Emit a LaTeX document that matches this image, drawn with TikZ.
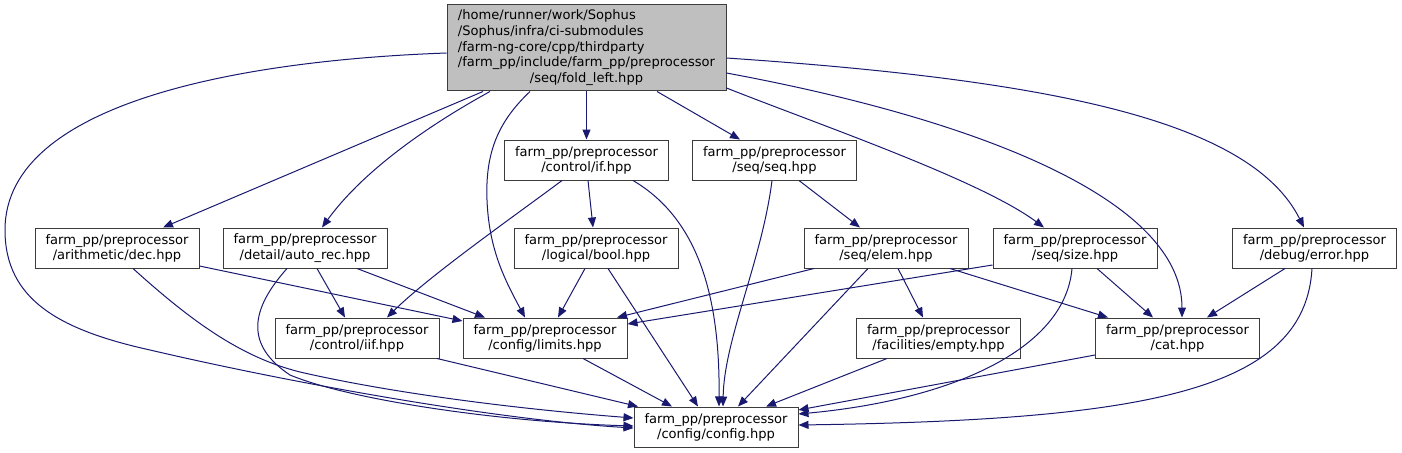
\documentclass[tikz,border=0pt]{standalone}
\usepackage{fontspec}
\setmainfont{DejaVu Sans}
\usetikzlibrary{arrows.meta}
\definecolor{edgeblue}{HTML}{191970}
\definecolor{boxline}{HTML}{3C3C3C}
\definecolor{rootfill}{HTML}{BFBFBF}
\tikzset{
  box/.style={draw=boxline, line width=0.75pt, fill=white, minimum width=123pt, minimum height=30pt,
    inner sep=0pt, align=center, font=\fontsize{9.8}{11.4}\selectfont},
  rootbox/.style={draw=boxline, line width=0.75pt, fill=rootfill, minimum width=209.25pt, minimum height=64.5pt,
    inner sep=0pt, font=\fontsize{9.8}{11.8}\selectfont},
  edge/.style={draw=edgeblue, line width=0.75pt, -{Triangle[length=7.5pt,width=6pt]}}
}
\begin{document}
\begin{tikzpicture}[x=0.75pt,y=-0.75pt]
\useasboundingbox (0,0) rectangle (1402,453);
\fill[white] (0,0) rectangle (1402,453);
% nodes
\node[rootbox] (root) at (586.5,48) {\renewcommand{\arraystretch}{1}\begin{tabular}{@{}l@{}}/home/runner/work/Sophus\\/Sophus/infra/ci-submodules\\/farm-ng-core/cpp/thirdparty\\/farm\_pp/include/farm\_pp/preprocessor\\\multicolumn{1}{@{}c@{}}{/seq/fold\_left.hpp}\end{tabular}};
\node[box] (if) at (586.5,160) {farm\_pp/preprocessor\\/control/if.hpp};
\node[box] (seq) at (774.5,160) {farm\_pp/preprocessor\\/seq/seq.hpp};
\node[box] (dec) at (117,248) {farm\_pp/preprocessor\\/arithmetic/dec.hpp};
\node[box] (autorec) at (305,248) {farm\_pp/preprocessor\\/detail/auto\_rec.hpp};
\node[box] (bool) at (596,248) {farm\_pp/preprocessor\\/logical/bool.hpp};
\node[box] (elem) at (886,248) {farm\_pp/preprocessor\\/seq/elem.hpp};
\node[box] (size) at (1075,248) {farm\_pp/preprocessor\\/seq/size.hpp};
\node[box] (error) at (1314.5,248) {farm\_pp/preprocessor\\/debug/error.hpp};
\node[box] (iif) at (357,338) {farm\_pp/preprocessor\\/control/iif.hpp};
\node[box] (limits) at (545,338) {farm\_pp/preprocessor\\/config/limits.hpp};
\node[box] (empty) at (938.5,338) {farm\_pp/preprocessor\\/facilities/empty.hpp};
\node[box] (cat) at (1177.5,338) {farm\_pp/preprocessor\\/cat.hpp};
\node[box] (config) at (716,427) {farm\_pp/preprocessor\\/config/config.hpp};
% edges from root
\draw[edge] (root.south -| 483,0) -- (dec.north -| 163,0);
\draw[edge] (root.south -| 490,0) .. controls (420,130) and (360,175) .. (autorec.north -| 322,0);
\draw[edge] (root.south -| 530,0) .. controls (500,120) and (485,150) .. (487,200) .. controls (489,250) and (505,280) .. (limits.north -| 525,0);
\draw[edge] (root.south -| 586.5,0) -- (if.north);
\draw[edge] (root.south -| 657,0) -- (seq.north -| 740,0);
\draw[edge] (root.east |- 0,88) .. controls (820,125) and (980,180) .. (size.north -| 1044,0);
\draw[edge] (root.east |- 0,73) .. controls (980,120) and (1182,200) .. (cat.north -| 1182,0);
\draw[edge] (root.east |- 0,58) .. controls (1050,80) and (1250,120) .. (error.north -| 1304,0);
\draw[edge] (root.west |- 0,53) .. controls (250,60) and (5,100) .. (5,230) .. controls (5,300) and (60,330) .. (150,350) .. controls (300,385) and (500,420) .. (config.west |- 0,428);
% if
\draw[edge] (if.south -| 562,0) .. controls (520,212) and (430,275) .. (iif.north -| 387,0);
\draw[edge] (if.south -| 588,0) -- (bool.north -| 593,0);
\draw[edge] (if.south -| 633,0) .. controls (700,220) and (720,300) .. (config.north -| 719,0);
% seq
\draw[edge] (seq.south -| 799,0) -- (elem.north -| 860,0);
\draw[edge] (seq.south -| 772,0) .. controls (762,260) and (724,340) .. (config.north -| 723,0);
% dec
\draw[edge] (dec.east |- 0,266) -- (limits.west |- 0,321);
\draw[edge] (dec.south -| 133,0) .. controls (190,320) and (240,357) .. (300,372) .. controls (400,395) and (530,410) .. (config.west |- 0,418);
% auto_rec
\draw[edge] (autorec.south -| 317,0) -- (iif.north -| 345,0);
\draw[edge] (autorec.south -| 357,0) -- (limits.north -| 485,0);
\draw[edge] (autorec.south -| 287,0) .. controls (250,310) and (245,345) .. (290,375) .. controls (350,400) and (500,422) .. (config.west |- 0,426);
% bool
\draw[edge] (bool.south -| 585,0) -- (limits.north -| 558,0);
\draw[edge] (bool.south -| 608,0) -- (config.north -| 698,0);
% elem
\draw[edge] (elem.south -| 814,0) -- (limits.north -| 617,0);
\draw[edge] (elem.south -| 868,0) -- (config.north -| 738,0);
\draw[edge] (elem.south -| 898,0) -- (empty.north -| 923,0);
\draw[edge] (elem.south -| 950,0) -- (cat.north -| 1108,0);
% size
\draw[edge] (size.west |- 0,265) -- (limits.east |- 0,324);
\draw[edge] (size.south -| 1097,0) -- (cat.north -| 1153,0);
\draw[edge] (size.south -| 1072,0) .. controls (1065,350) and (950,400) .. (config.east |- 0,414);
% error
\draw[edge] (error.south -| 1285,0) -- (cat.north -| 1207,0);
\draw[edge] (error.south -| 1312,0) .. controls (1305,390) and (1150,420) .. (config.east |- 0,425);
% row 3
\draw[edge] (iif.south -| 437,0) -- (config.north -| 638,0);
\draw[edge] (limits.south -| 583,0) -- (config.north -| 672,0);
\draw[edge] (empty.south -| 887,0) -- (config.north -| 766,0);
\draw[edge] (cat.west |- 0,355) -- (config.east |- 0,410);
\end{tikzpicture}
\end{document}
